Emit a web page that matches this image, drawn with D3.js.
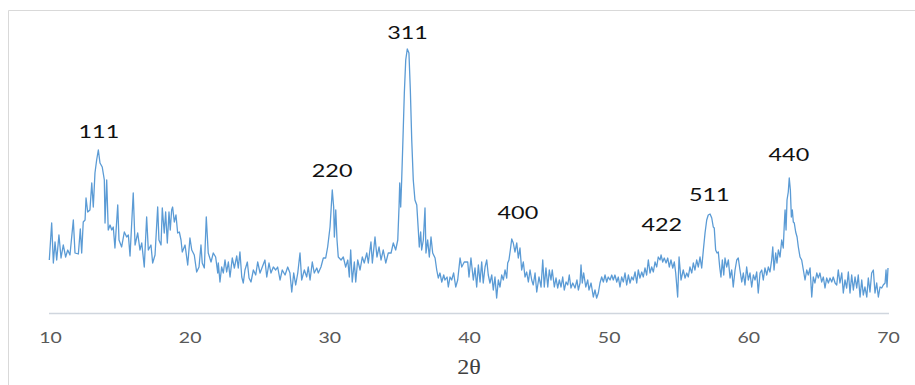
<!DOCTYPE html>
<html>
<head>
<meta charset="utf-8">
<script src="https://cdn.jsdelivr.net/npm/d3@7"></script>
<style>
  html, body { margin: 0; padding: 0; background: #ffffff; }
  svg { display: block; }
</style>
</head>
<body>
<svg id="chart" width="915" height="385"></svg>
<script>
// XRD pattern: diffraction angle 2θ (degrees) and relative intensity (a.u.)
const twoTheta = [
  9.95,10.12,10.24,10.36,10.48,10.64,10.79,10.95,11.12,11.27,11.43,11.67,11.79,12.03,12.17,12.27,12.38,12.51,12.58,12.70,
  12.86,12.99,13.10,13.22,13.34,13.46,13.58,13.74,13.89,13.94,14.06,14.17,14.30,14.42,14.53,14.65,14.85,14.94,15.13,15.32,
  15.49,15.61,15.73,15.96,16.09,16.28,16.44,16.57,16.75,16.92,17.04,17.23,17.35,17.52,17.71,17.80,17.95,18.04,18.18,18.28,
  18.40,18.52,18.61,18.71,18.78,18.90,19.02,19.14,19.26,19.38,19.47,19.67,19.86,20.02,20.15,20.33,20.50,20.67,20.81,20.90,
  21.05,21.19,21.33,21.53,21.69,21.86,22.01,22.05,22.17,22.29,22.41,22.53,22.65,22.77,22.89,23.05,23.20,23.37,23.48,23.60,
  23.73,23.84,23.96,24.13,24.25,24.39,24.56,24.73,
  24.87,25.04,25.20,25.39,25.52,25.68,25.82,25.99,26.16,26.30,26.47,26.63,26.83,27.02,27.18,27.31,27.45,27.59,27.74,27.90,
  28.02,28.21,28.38,28.49,28.62,28.78,28.92,29.10,29.21,29.40,29.57,29.74,29.88,30.05,30.21,30.31,30.36,30.46,30.55,30.64,
  30.84,31.00,31.17,31.32,31.43,31.53,31.64,31.79,31.89,32.03,32.20,32.36,32.50,32.68,32.79,32.98,33.08,33.27,33.41,33.56,
  33.70,33.86,34.04,34.22,34.42,34.58,34.75,34.90,34.99,35.04,35.11,35.18,35.27,35.37,35.47,35.58,35.70,35.80,35.90,36.01,
  36.13,36.26,36.37,36.44,36.54,36.61,36.73,36.85,36.92,37.04,37.16,37.28,37.40,37.57,37.69,37.80,37.92,38.05,38.19,38.28,
  38.43,38.52,38.64,38.76,38.90,39.05,39.19,39.36,39.48,39.66,
  39.91,40.00,40.14,40.31,40.43,40.55,40.67,40.79,40.91,41.02,41.15,41.27,41.38,41.50,41.63,41.74,41.86,41.98,42.10,42.22,
  42.34,42.46,42.58,42.70,42.77,42.86,42.96,43.06,43.17,43.29,43.42,43.53,43.65,43.77,43.89,44.01,44.13,44.25,44.37,44.49,
  44.60,44.73,44.85,45.01,45.16,45.28,45.39,45.51,45.64,45.75,45.87,45.96,46.11,46.23,46.35,46.47,46.59,46.71,46.82,46.95,
  47.07,47.18,47.30,47.43,47.59,47.73,47.83,47.95,48.02,48.11,48.21,48.36,48.50,48.59,48.74,48.90,49.02,49.14,49.26,49.38,
  49.50,49.62,49.74,49.86,49.97,50.10,50.22,50.33,50.45,50.58,50.69,50.81,50.93,51.05,51.17,51.29,51.41,51.53,51.65,51.76,
  51.89,52.01,52.12,52.24,52.37,52.48,52.60,52.72,52.84,52.96,53.08,53.20,53.32,53.44,53.55,53.68,53.75,53.87,53.98,54.11,
  54.23,54.34,54.46,54.59,54.70,54.80,54.94,
  55.04,55.18,55.34,55.47,55.59,55.70,55.82,55.95,56.06,56.18,56.30,56.42,56.54,56.66,56.78,56.90,57.02,57.13,57.26,57.38,
  57.49,57.56,57.66,57.76,57.85,57.95,58.04,58.14,58.24,58.33,58.45,58.57,58.69,58.81,58.92,59.05,59.17,59.28,59.40,59.53,
  59.64,59.76,59.88,60.00,60.12,60.24,60.36,60.48,60.60,60.71,60.84,60.96,61.07,61.19,61.32,61.43,61.55,61.67,61.75,61.84,
  61.96,62.05,62.15,62.27,62.39,62.50,62.58,62.63,62.70,62.77,62.86,62.93,63.01,63.08,63.15,63.22,63.29,63.39,63.49,63.58,
  63.70,63.82,63.94,64.06,64.18,64.29,64.42,64.54,64.65,64.77,64.90,65.01,65.13,65.25,65.37,65.49,65.61,65.73,65.85,65.97,
  66.08,66.21,66.33,66.44,66.56,66.69,66.80,66.92,67.04,67.16,67.28,67.40,67.52,67.64,67.76,67.87,68.00,68.12,68.23,68.35,
  68.48,68.59,68.71,68.83,68.95,69.07,69.19,69.31,69.43,69.55,69.66,69.79,69.86,69.93,70.00
];

const intensity = [
  53,90,50,71,53,78,55,68,56,63,58,93,60,59,84,60,91,93,115,101,
  103,130,106,140,153,163,150,146,133,90,133,83,88,83,86,65,108,73,66,81,
  76,78,57,120,68,80,63,70,46,96,63,68,50,58,106,73,68,105,80,101,
  70,101,83,103,106,91,98,80,81,73,61,68,48,75,63,58,41,46,68,50,
  45,96,60,51,60,56,40,50,31,46,40,53,41,51,36,55,45,57,45,61,
  36,30,43,51,35,31,43,38,
  51,40,46,53,36,50,40,46,43,46,33,43,38,46,40,21,40,28,40,60,
  33,43,36,46,33,51,40,45,40,46,55,55,66,86,123,106,76,103,73,56,
  53,56,46,53,36,63,31,51,31,53,43,56,50,60,50,71,50,76,56,66,
  53,63,50,60,60,70,63,73,106,130,106,133,173,220,253,264,260,223,173,133,
  113,108,83,66,81,63,73,105,60,73,56,76,60,55,43,35,40,31,38,33,
  36,26,36,33,40,26,33,55,46,51,
  51,36,55,33,45,26,48,31,51,30,46,53,38,30,38,23,36,15,33,26,
  38,33,43,35,50,53,63,74,70,61,70,55,65,43,51,36,41,31,43,33,
  28,40,21,36,26,53,26,45,26,43,33,43,26,35,25,33,26,36,23,31,
  28,38,25,30,25,33,23,30,48,30,40,26,33,23,30,16,23,15,20,30,
  36,31,38,31,36,33,38,33,38,31,36,26,36,31,40,28,38,30,36,33,
  41,30,43,35,41,36,45,38,53,40,46,41,51,46,56,53,58,51,55,50,
  55,46,53,45,51,40,16,
  56,33,43,35,40,36,46,40,50,43,53,46,56,45,63,80,93,98,99,95,
  86,85,63,60,61,46,36,53,38,55,46,53,35,43,26,43,53,55,43,31,
  40,28,46,33,40,26,38,33,41,20,40,43,33,45,38,46,41,53,66,43,
  60,50,63,56,73,65,90,103,83,113,121,135,123,96,103,91,90,81,76,66,
  56,53,43,33,43,38,45,16,36,30,40,35,40,31,36,25,35,30,35,31,
  36,30,28,43,30,40,20,33,25,41,20,38,23,36,25,38,16,33,18,26,
  16,35,21,40,43,20,30,16,26,25,28,30,43,26,45
];

// Miller indices of the indexed reflections and where their labels sit
const peakLabels = ["111", "220", "311", "400", "422", "511", "440"];
const peakAngles = [13.5, 30.2, 35.6, 43.5, 53.8, 57.2, 62.9];
const peakLabelLevels = [175, 136, 274, 94, 82, 112, 152];

const xTicks = [10, 20, 30, 40, 50, 60, 70];
const xTitle = "2θ";

const svg = d3.select("#chart");

// outer frame of the chart area
svg.append("path")
  .attr("d", "M8.5,385 L8.5,10.5 L915,10.5")
  .attr("fill", "none")
  .attr("stroke", "#d9d9d9")
  .attr("stroke-width", 1);

const x = d3.scaleLinear().domain([10, 70]).range([50, 888]);
const y = d3.scaleLinear().domain([0, 300]).range([313, 13]);

const stretch = 1.3;

// horizontal axis
const axis = d3.axisBottom(x).tickValues(xTicks).tickSize(0).tickPadding(0).tickFormat(d3.format("d"));
const gAxis = svg.append("g").attr("transform", `translate(0,${y(0)})`).call(axis);
gAxis.select(".domain")
  .attr("d", `M${x(10) - 1},0.5H${x(70) + 1}`)
  .attr("stroke", "#d0d6de")
  .attr("stroke-width", 1.3);
gAxis.selectAll(".tick text")
  .attr("y", 0)
  .attr("dy", 0)
  .attr("transform", `translate(0,30) scale(${stretch},1)`)
  .attr("font-family", "Lato, 'Open Sans', sans-serif")
  .attr("font-size", 15)
  .attr("fill", "#595959");

// axis title
svg.append("text")
  .attr("transform", `translate(${x(40)},374) scale(1.15,1)`)
  .attr("text-anchor", "middle")
  .attr("font-family", "'Liberation Serif', 'DejaVu Serif', serif")
  .attr("font-size", 21)
  .attr("fill", "#404040")
  .text(xTitle);

// diffraction pattern
const points = twoTheta.map((t, i) => [t, intensity[i]]);
const line = d3.line().x(d => x(d[0])).y(d => y(d[1]));
svg.append("path")
  .datum(points)
  .attr("d", line)
  .attr("fill", "none")
  .attr("stroke", "#5b9bd5")
  .attr("stroke-width", 1.3)
  .attr("stroke-linejoin", "round");

// reflection labels
svg.append("g").selectAll("text")
  .data(peakLabels)
  .join("text")
  .attr("transform", (d, i) => `translate(${x(peakAngles[i])},${y(peakLabelLevels[i])}) scale(${stretch},1)`)
  .attr("text-anchor", "middle")
  .attr("font-family", "Lato, 'Open Sans', sans-serif")
  .attr("font-size", 18)
  .attr("fill", "#111111")
  .text(d => d);
</script>
</body>
</html>
